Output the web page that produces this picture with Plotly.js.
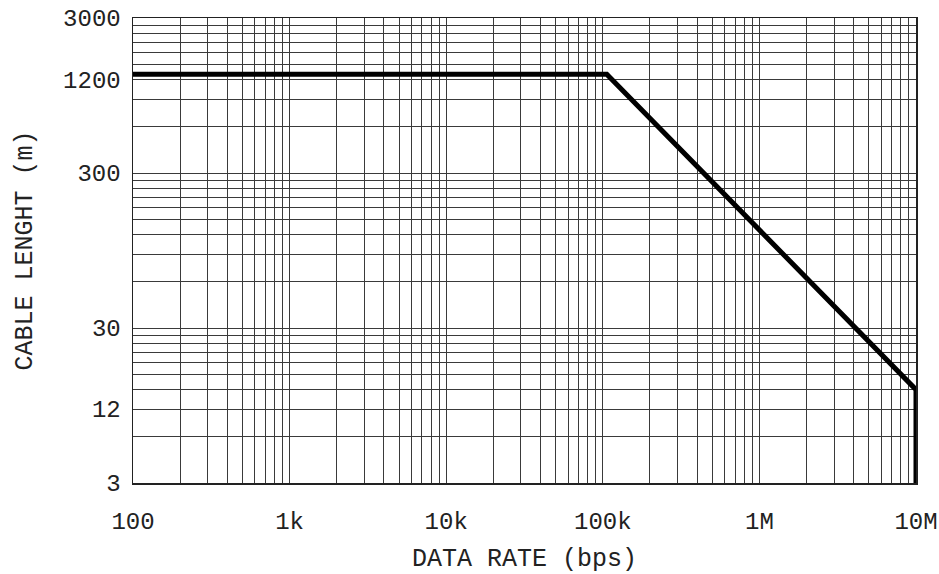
<!DOCTYPE html>
<html>
<head>
<meta charset="utf-8">
<script src="https://cdn.plot.ly/plotly-3.0.1.min.js"></script>
<style>html,body{margin:0;padding:0;background:#fff;}</style>
</head>
<body>
<div id="chart" style="width:939px;height:574px;"></div>
<script>
// Data
const dataRate = [100, 106000, 10000000, 10000000];      // bps
const cableLength = [1300, 1300, 12, 3];                 // m

// Axis tick positions (grid) and labels
const xTickVals = [];
for (let e = 2; e <= 6; e++) { for (let m = 1; m <= 9; m++) xTickVals.push(m * Math.pow(10, e)); }
xTickVals.push(1e7);
const xLabelMap = {100: '100', 1000: '1k', 10000: '10k', 100000: '100k', 1000000: '1M', 10000000: '10M'};
const xTickText = xTickVals.map(v => xLabelMap[v] || '');

const yTickVals = [];
[3, 30, 300].forEach(b => { for (let m = 1; m <= 9; m++) yTickVals.push(m * b); });
yTickVals.push(3000);
const yLabelMap = {3: '3', 9: '12', 30: '30', 300: '300', 1200: '1200', 3000: '3000'};
const yTickText = yTickVals.map(v => yLabelMap[v] || '');

const FONT = '"Liberation Mono", "Courier New", monospace';

const trace = {
  x: dataRate, y: cableLength, type: 'scatter', mode: 'lines',
  line: {color: '#000', width: 5, shape: 'linear'},
  hoverinfo: 'skip'
};

const layout = {
  width: 939, height: 574,
  margin: {l: 133, r: 23, t: 18, b: 91},
  paper_bgcolor: '#fff', plot_bgcolor: '#fff',
  showlegend: false,
  font: {family: FONT, size: 24, color: '#222'},
  xaxis: {
    type: 'log', range: [2, 7],
    tickvals: xTickVals, ticktext: xTickText,
    ticks: '', showgrid: true, gridcolor: '#3a3a3a', gridwidth: 1,
    showline: true, mirror: true, linecolor: '#222', linewidth: 1.5,
    zeroline: false, ticklabelstandoff: 16,
    tickfont: {family: FONT, size: 24, color: '#222'},
    title: {text: 'DATA RATE (bps)', font: {family: FONT, size: 25, color: '#222'}, standoff: 18}
  },
  yaxis: {
    type: 'log', range: [Math.log10(3), Math.log10(3000)],
    tickvals: yTickVals, ticktext: yTickText,
    ticks: '', showgrid: true, gridcolor: '#3a3a3a', gridwidth: 1,
    showline: true, mirror: true, linecolor: '#222', linewidth: 1.5,
    zeroline: false, ticklabelstandoff: 6,
    tickfont: {family: FONT, size: 24, color: '#222'},
    title: {text: 'CABLE LENGHT (m)', font: {family: FONT, size: 25, color: '#222'}, standoff: 23}
  }
};

Plotly.newPlot('chart', [trace], layout, {displayModeBar: false, staticPlot: true});
</script>
</body>
</html>
